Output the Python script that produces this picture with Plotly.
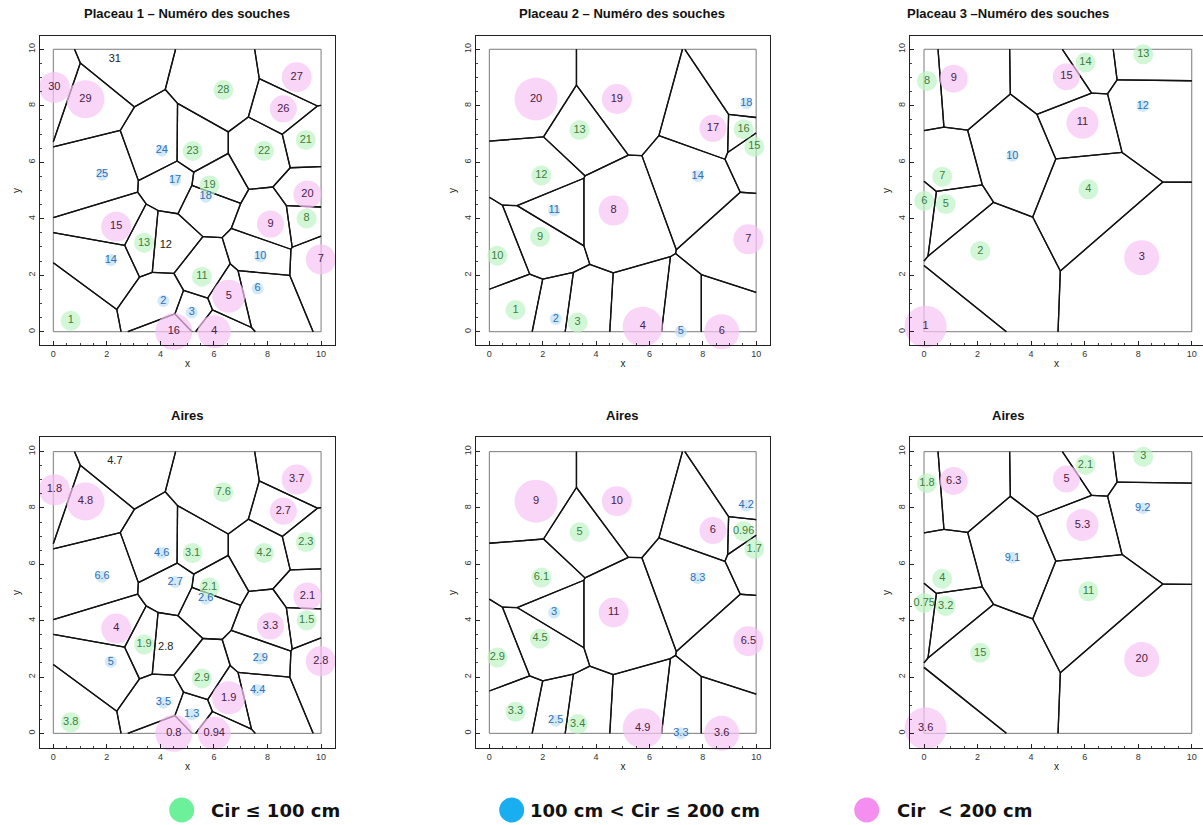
import numpy as np
import plotly.graph_objects as go

W, H = 1203, 825

# ---------------- DATA ----------------
# Placeau 1
p1_id = list(range(1, 32))
p1_x = [0.65, 4.11, 5.17, 6.01, 6.55, 7.63, 9.99, 9.46, 8.11, 7.73, 5.55, 4.20, 3.39, 2.15, 2.35, 4.50,
        4.55, 5.69, 5.83, 9.49, 9.43, 7.87, 5.20, 4.05, 1.82, 8.59, 9.09, 6.35, 1.20, 0.04, 2.30]
p1_y = [0.39, 1.09, 0.68, 0.00, 1.26, 1.53, 2.56, 4.01, 3.81, 2.66, 1.95, 3.07, 3.15, 2.54, 3.72, 0.00,
        5.37, 4.78, 5.18, 4.86, 6.79, 6.40, 6.40, 6.41, 5.56, 7.89, 9.01, 8.56, 8.23, 8.65, 9.66]
p1_circ = [80, 150, 150, 330, 330, 150, 300, 80, 270, 150, 80, 0, 80, 150, 300, 370,
           150, 150, 80, 280, 80, 80, 80, 150, 150, 270, 300, 80, 380, 310, 0]
p1_aire = ["3.8", "3.5", "1.3", "0.94", "1.9", "4.4", "2.8", "1.5", "3.3", "2.9", "2.9", "2.8", "1.9", "5", "4", "0.8",
           "2.7", "2.6", "2.1", "2.1", "2.3", "4.2", "3.1", "4.6", "6.6", "2.7", "3.7", "7.6", "4.8", "1.8", "4.7"]

# Placeau 2
p2_id = list(range(1, 21))
p2_x = [0.98, 2.49, 3.31, 5.75, 7.18, 8.71, 9.71, 4.66, 1.90, 0.30, 2.43, 1.95, 3.38, 7.81, 9.93, 9.53,
        8.38, 9.63, 4.78, 1.75]
p2_y = [0.77, 0.45, 0.33, 0.18, 0.00, 0.00, 3.27, 4.29, 3.36, 2.69, 4.29, 5.53, 7.14, 5.51, 6.55, 7.17,
        7.20, 8.09, 8.24, 8.24]
p2_circ = [80, 150, 80, 400, 150, 350, 300, 300, 80, 80, 150, 80, 80, 150, 80, 80, 270, 150, 300, 430]
p2_aire = ["3.3", "2.5", "3.4", "4.9", "3.3", "3.6", "6.5", "11", "4.5", "2.9", "3", "6.1", "5", "8.3", "1.7", "0.96",
           "6", "4.2", "10", "9"]

# Placeau 3
p3_id = list(range(1, 16))
p3_x = [0.06, 2.10, 8.13, 6.14, 0.81, 0.01, 0.68, 0.11, 1.11, 3.30, 5.92, 8.17, 8.19, 6.03, 5.32]
p3_y = [0.18, 2.86, 2.62, 5.04, 4.52, 4.63, 5.49, 8.88, 8.96, 6.23, 7.40, 7.99, 9.82, 9.53, 9.03]
p3_circ = [420, 80, 350, 80, 80, 80, 80, 80, 280, 150, 320, 150, 80, 80, 270]
p3_aire = ["3.6", "15", "20", "11", "3.2", "0.75", "4", "1.8", "6.3", "9.1", "5.3", "9.2", "3", "2.1", "5"]

titles_top = ["Placeau 1 \u2013 Numéro des souches", "Placeau 2 \u2013 Numéro des souches",
              "Placeau 3 \u2013Numéro des souches"]
title_bottom = "Aires"
legend_labels = ["Cir \u2264 100 cm", "100 cm < Cir \u2264 200 cm", "Cir\u00a0 < 200 cm"]
tick_vals = [0, 2, 4, 6, 8, 10]

plots = [
    (p1_id, p1_x, p1_y, p1_circ, p1_aire),
    (p2_id, p2_x, p2_y, p2_circ, p2_aire),
    (p3_id, p3_x, p3_y, p3_circ, p3_aire),
]

# ---------------- STYLE ----------------
GREEN_FILL, BLUE_FILL, PINK_FILL = "#bff3c6", "#bfe0f6", "#f6c3f3"
GREEN_TXT, BLUE_TXT, PINK_TXT, BLACK_TXT = "#3d7f3f", "#2f6fb8", "#4a2048", "#222222"
LEG_COLS = ["#6cf09a", "#19aef0", "#f48ff0"]


def classify(c):
    if c <= 0:
        return None
    if c <= 100:
        return "g"
    if c <= 200:
        return "b"
    return "p"


def style_for(circ):
    sizes, fills, tcols = [], [], []
    for c in circ:
        k = classify(c)
        if k == "g":
            sizes.append(20); fills.append(GREEN_FILL); tcols.append(GREEN_TXT)
        elif k == "b":
            sizes.append(12); fills.append(BLUE_FILL); tcols.append(BLUE_TXT)
        elif k == "p":
            sizes.append(c / 10.0); fills.append(PINK_FILL); tcols.append(PINK_TXT)
        else:
            sizes.append(0); fills.append("rgba(0,0,0,0)"); tcols.append(BLACK_TXT)
    return sizes, fills, tcols


def clip(poly, d, c):
    out = []
    n = len(poly)
    for k in range(n):
        a = poly[k]; b = poly[(k + 1) % n]
        fa = d[0] * a[0] + d[1] * a[1] - c
        fb = d[0] * b[0] + d[1] * b[1] - c
        if fa <= 0:
            out.append(a)
        if (fa < 0 < fb) or (fb < 0 < fa):
            t = fa / (fa - fb)
            out.append((a[0] + t * (b[0] - a[0]), a[1] + t * (b[1] - a[1])))
    return out


def voronoi_edges(xs, ys, lo=0.0, hi=10.0):
    pts = list(zip(xs, ys))
    ex, ey = [], []
    eps = 1e-6
    for i, pi in enumerate(pts):
        poly = [(lo, lo), (hi, lo), (hi, hi), (lo, hi)]
        for j, pj in enumerate(pts):
            if i == j:
                continue
            d = (pj[0] - pi[0], pj[1] - pi[1])
            if d[0] == 0 and d[1] == 0:
                continue
            m = ((pi[0] + pj[0]) / 2, (pi[1] + pj[1]) / 2)
            poly = clip(poly, d, d[0] * m[0] + d[1] * m[1])
            if not poly:
                break
        n = len(poly)
        for k in range(n):
            a = poly[k]; b = poly[(k + 1) % n]
            onb = any([
                abs(a[0] - lo) < eps and abs(b[0] - lo) < eps,
                abs(a[0] - hi) < eps and abs(b[0] - hi) < eps,
                abs(a[1] - lo) < eps and abs(b[1] - lo) < eps,
                abs(a[1] - hi) < eps and abs(b[1] - hi) < eps,
            ])
            if onb:
                continue
            ex += [a[0], b[0], None]
            ey += [a[1], b[1], None]
    return ex, ey


# ---------------- LAYOUT GEOMETRY ----------------
col_px = [(40, 335), (476, 770), (910, 1203)]
col_xr = [[-0.497, 10.52], [-0.50, 10.52], [-0.523, 10.42]]
row_px = [(36, 345), (437, 748)]
row_yr = [[-0.47, 10.47], [-0.52, 10.52]]
col_center_px = [187, 622, 1008]
row_title_px = [14, 415]

fig = go.Figure()
layout = dict(
    width=W, height=H, margin=dict(l=0, r=0, t=0, b=0),
    paper_bgcolor="white", plot_bgcolor="white", showlegend=False,
    font=dict(family="Liberation Sans, Arial, sans-serif", color="#222"),
)
annotations = []
shapes = []

idx = 0
for r in range(2):
    for c in range(3):
        idx += 1
        xa = "x" if idx == 1 else f"x{idx}"
        ya = "y" if idx == 1 else f"y{idx}"
        ids, xs, ys, circ, aire = plots[c]
        sizes, fills, tcols = style_for(circ)
        labels = [str(v) for v in ids] if r == 0 else aire

        # window box (gray)
        fig.add_trace(go.Scatter(
            x=[0, 10, 10, 0, 0], y=[0, 0, 10, 10, 0], mode="lines",
            line=dict(color="#7a7a7a", width=1), xaxis=xa, yaxis=ya, hoverinfo="skip"))
        # Voronoi edges
        ex, ey = voronoi_edges(xs, ys)
        fig.add_trace(go.Scatter(
            x=ex, y=ey, mode="lines", line=dict(color="#111", width=1.3),
            xaxis=xa, yaxis=ya, hoverinfo="skip"))
        # circles + labels
        fig.add_trace(go.Scatter(
            x=xs, y=ys, mode="markers+text", text=labels, textposition="middle center",
            marker=dict(size=sizes, color=fills, line=dict(width=0)),
            textfont=dict(size=11, color=tcols, family="Liberation Sans, Arial, sans-serif"),
            xaxis=xa, yaxis=ya, cliponaxis=False))

        x0p, x1p = col_px[c]
        y0p, y1p = row_px[r]
        xkey = "xaxis" if idx == 1 else f"xaxis{idx}"
        ykey = "yaxis" if idx == 1 else f"yaxis{idx}"
        common = dict(
            showgrid=False, zeroline=False, showline=True, mirror=True, linecolor="#222", linewidth=1,
            ticks="inside", ticklen=4, tickcolor="#222", tickvals=tick_vals,
            tickfont=dict(size=9, color="#333"),
            minor=dict(ticks="inside", ticklen=2, dtick=0.5, tickcolor="#444"),
        )
        layout[xkey] = dict(common, domain=[x0p / W, min(x1p / W, 1.0)], range=col_xr[c],
                            anchor=ya, title=dict(text="x", font=dict(size=10), standoff=2))
        layout[ykey] = dict(common, domain=[1 - y1p / H, 1 - y0p / H], range=row_yr[r],
                            anchor=xa, tickangle=-90,
                            title=dict(text="y", font=dict(size=10), standoff=4))

        annotations.append(dict(
            text=f"<b>{titles_top[c] if r == 0 else title_bottom}</b>",
            x=col_center_px[c] / W, y=1 - row_title_px[r] / H, xref="paper", yref="paper",
            showarrow=False, font=dict(size=13, color="#111"), xanchor="center", yanchor="middle"))

# legend
leg_circle_px = [181.7, 511.7, 866.7]
leg_text_px = [209, 528, 895]
leg_y = 810
for k in range(3):
    shapes.append(dict(
        type="circle", xref="paper", yref="paper", xsizemode="pixel", ysizemode="pixel",
        xanchor=leg_circle_px[k] / W, yanchor=1 - leg_y / H,
        x0=-12.5, x1=12.5, y0=-12.5, y1=12.5,
        fillcolor=LEG_COLS[k], line=dict(width=0)))
    annotations.append(dict(
        text=f"<b>{legend_labels[k]}</b>", x=leg_text_px[k] / W, y=1 - leg_y / H,
        xref="paper", yref="paper", showarrow=False, xanchor="left", yanchor="middle",
        font=dict(size=18, color="#111", family="DejaVu Sans, sans-serif")))

layout["annotations"] = annotations
layout["shapes"] = shapes
fig.update_layout(**layout)

fig.write_html("out.html", config={"displayModeBar": False},
               post_script="document.body.style.margin='0';")
